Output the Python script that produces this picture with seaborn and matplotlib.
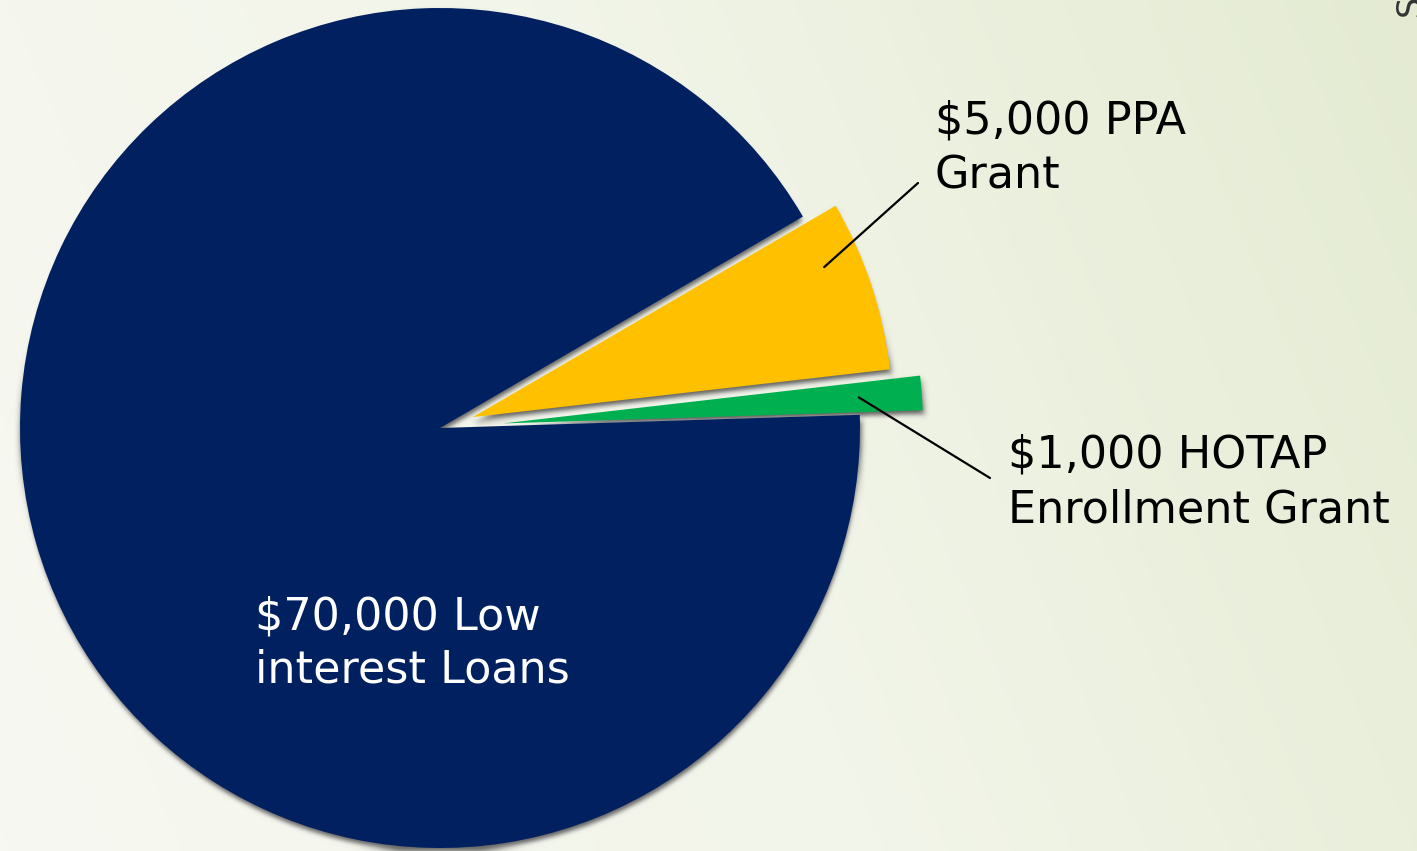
import numpy as np
import matplotlib
matplotlib.use("Agg")
import matplotlib.pyplot as plt
from matplotlib.colors import LinearSegmentedColormap
from matplotlib.patches import Shadow
import seaborn as sns

# chart data (counter-clockwise from the right)
labels = ["$1,000 HOTAP\nEnrollment Grant", "$5,000 PPA\nGrant", "$70,000 Low\ninterest Loans"]
amounts = [1000, 5000, 70000]
colors = ["#00B050", "#FFC000", "#002060"]
explode = [0.15, 0.082, 0.0]

W, H = 1417, 851
CX, CY, R = 440, 428, 420   # pie centre / radius in pixels


def px(x, y):
    """pixel (from top-left) -> data coords where the pie has radius 1"""
    return (x - CX) / R, (CY - y) / R


def soft_blur(im, dpi):
    """agg filter: gaussian blur, used for the drop shadows"""
    sigma = 3.0 * dpi / 100
    k = int(3 * sigma) + 1
    a = np.pad(im, ((k, k), (k, k), (0, 0)))
    xs = np.arange(-k, k + 1)
    w = np.exp(-xs ** 2 / (2 * sigma ** 2))
    w /= w.sum()
    tmp = np.zeros_like(a)
    for s, ws in zip(xs, w):
        tmp += ws * np.roll(a, s, axis=0)
    out = np.zeros_like(a)
    for s, ws in zip(xs, w):
        out += ws * np.roll(tmp, s, axis=1)
    return out, -k, -k


sns.set_theme(style="white")
plt.rcParams['font.family'] = ['DejaVu Sans']

fig = plt.figure(figsize=(W / 100, H / 100), dpi=100)

# soft slide background
bg = fig.add_axes([0, 0, 1, 1])
cmap = LinearSegmentedColormap.from_list("bg", ["#f7f8f1", "#f2f5e9", "#e4ebd2"])
gx, gy = np.meshgrid(np.linspace(0, 1, 300), np.linspace(0, 1, 200))
grad = 0.8 * gx + 0.2 * gy
bg.imshow(grad, cmap=cmap, aspect="auto", extent=[0, 1, 0, 1], origin="lower")
bg.axis("off")

ax = fig.add_axes([0, 0, 1, 1])
ax.patch.set_alpha(0)

# shadow offsets are in data units (x dpi/72); shadow falls straight down
wedges, _ = ax.pie(
    amounts, colors=colors, explode=explode, startangle=1.8,
    radius=1, center=(0, 0), wedgeprops=dict(linewidth=0),
    shadow=dict(ox=0.0015, oy=-0.0085, facecolor="#3a3a3a", edgecolor="none", alpha=0.8),
)
for p in ax.patches:
    if isinstance(p, Shadow):
        p.set_agg_filter(soft_blur)

x0, y1 = px(0, 0)
x1, y0 = px(W, H)
ax.set_aspect("auto")
ax.set_xlim(x0, x1)
ax.set_ylim(y0, y1)
ax.axis("off")

fs = 32
ls = 1.36


def wedge_point(w, frac_theta, frac_r):
    ang = np.deg2rad(w.theta1 + frac_theta * (w.theta2 - w.theta1))
    cx, cy = w.center
    return cx + frac_r * w.r * np.cos(ang), cy + frac_r * w.r * np.sin(ang)


# $5,000 PPA Grant
ax.annotate("", xy=wedge_point(wedges[1], 0.7, 0.91), xytext=px(918, 183),
            arrowprops=dict(arrowstyle="-", color="black", lw=1.6, shrinkA=0, shrinkB=0))
ax.text(*px(935, 99), labels[1].replace("$", "\\$"), fontsize=fs, color="black",
        ha="left", va="top", linespacing=ls)

# $1,000 HOTAP Enrollment Grant
ax.annotate("", xy=wedge_point(wedges[0], 0.5, 0.85), xytext=px(990, 478),
            arrowprops=dict(arrowstyle="-", color="black", lw=1.6, shrinkA=0, shrinkB=0))
ax.text(*px(1008, 433), labels[0].replace("$", "\\$"), fontsize=fs, color="black",
        ha="left", va="top", linespacing=ls)

# $70,000 Low interest Loans (inside the navy slice)
ax.text(*px(255, 595), labels[2].replace("$", "\\$"), fontsize=fs, color="white",
        ha="left", va="top", linespacing=1.3)

# glyph peeking in at the top right corner of the slide
ax.text(*px(1410, 5), "S", fontsize=24, color="#333333", rotation=90,
        ha="center", va="center")

fig.savefig("out.png", dpi=100)
